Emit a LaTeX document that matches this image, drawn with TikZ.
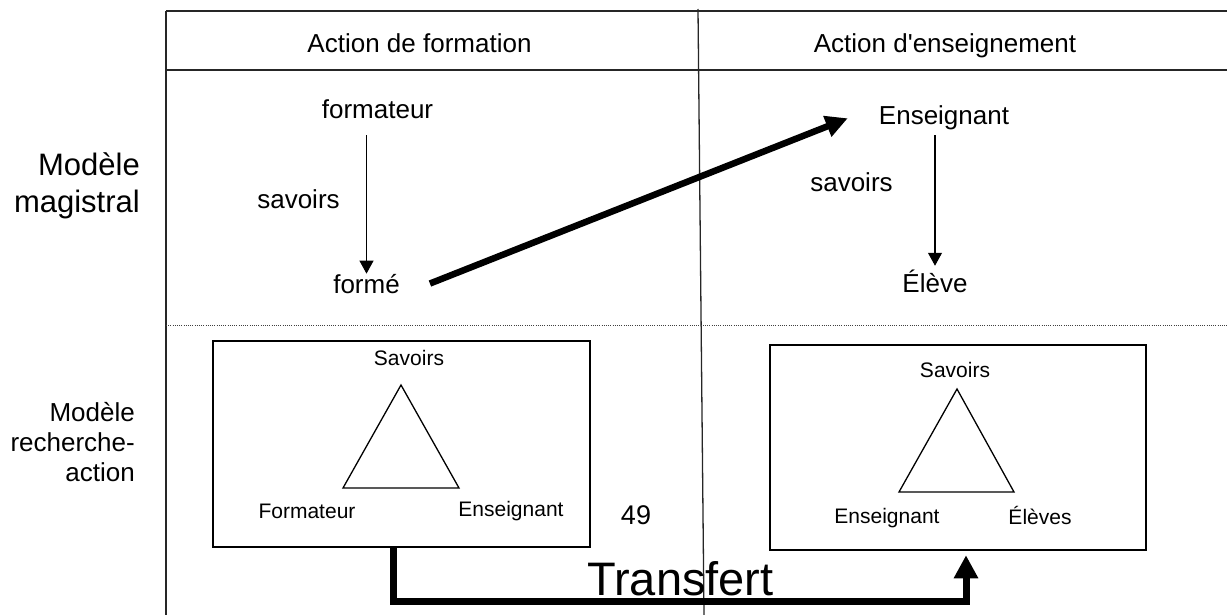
\documentclass[tikz,border=0pt]{standalone}
\usepackage{fontspec}
\setmainfont{Liberation Sans}
\usetikzlibrary{arrows.meta}
\begin{document}
\begin{tikzpicture}[x=1pt,y=-1pt,
  txt/.style={inner sep=0pt, anchor=base, font=\fontsize{26}{31}\selectfont},
  tri/.style={inner sep=0pt, anchor=base, font=\fontsize{21}{25}\selectfont},
  rowlabel/.style={inner sep=0pt, anchor=base east, align=right},
  rule/.style={line width=1.3pt, draw=black!85},
  flow/.style={line width=1.1pt, -{Triangle[length=13pt,width=14pt]}},
  bigflow/.style={line width=6.5pt, -{Triangle[length=22pt,width=21pt]}},
  transfer/.style={line width=7pt, -{Triangle[length=23pt,width=23pt]}},
  panel/.style={draw, line width=1.5pt, inner sep=0pt},
  triangle/.style={line width=1.3pt, line join=miter}
]
\useasboundingbox (0,0) rectangle (1227,615);

% table grid
\draw[rule] (166,11) -- (1227,11);
\draw[rule] (166,70) -- (1227,70);
\draw[rule] (166,11) -- (166,615);
\draw[rule] (698,9) -- (704,615);
\draw[line width=0.9pt, black!75, dash pattern=on 1pt off 1.2pt] (166,325) -- (1227,325);

% column headers
\node[txt] (h1) at (419.5,53) {Action de formation};
\node[txt] (h2) at (945,53) {Action d\textquotesingle enseignement};

% row labels (anchored on the baseline of their last line)
\node[rowlabel, font=\fontsize{31}{37}\selectfont] (row1) at (140,212) {Modèle\\magistral};
\node[rowlabel, font=\fontsize{26}{30}\selectfont] (row2) at (135,481) {Modèle\\recherche-\\action};

% magistral model
\node[txt] (formateur) at (377.5,119) {formateur};
\node[txt] (sav1) at (298.5,208) {savoirs};
\node[txt] (forme) at (366.5,293) {formé};
\node[txt] (ens) at (944,125) {Enseignant};
\node[txt] (sav2) at (851.5,192) {savoirs};
\node[txt] (eleve) at (935,292) {Élève};

\draw[flow, shorten <=16pt] (formateur.south -| forme.north) -- (forme.north);
\draw[flow, shorten <=4.5pt, shorten >=3.5pt] (ens.south -| eleve.north) -- (eleve.north);
\draw[bigflow] ([xshift=30pt]forme.east) -- ([xshift=-31pt]ens.west);

% research-action model: left panel
\node[panel, minimum width=377pt, minimum height=206pt] (lbox) at (401.5,444) {};
\draw[triangle] (401,385) -- (459,488) -- (343,488) -- cycle;
\node[tri] (lsav) at (409,365) {Savoirs};
\node[tri] (lform) at (307,518) {Formateur};
\node[tri] (lens) at (511,516) {Enseignant};

% research-action model: right panel
\node[panel, minimum width=376pt, minimum height=205pt] (rbox) at (958,447.5) {};
\draw[triangle] (957,389) -- (1014,492) -- (899,492) -- cycle;
\node[tri] (rsav) at (955,377) {Savoirs};
\node[tri] (rens) at (887,523) {Enseignant};
\node[tri] (relev) at (1040,524) {Élèves};

% page number
\node[inner sep=0pt, anchor=base, font=\fontsize{27}{32}\selectfont] (page) at (636,524) {49};

% transfer link between the panels
\coordinate (tlow) at (680,601);
\draw[transfer, shorten >=4.5pt] ([xshift=-8.5pt]lbox.south) |- (tlow) -| ([xshift=8pt]rbox.south);
\node[inner sep=0pt, anchor=base, font=\fontsize{47}{56}\selectfont] (transfert) at (680.5,595) {Transfert};
\end{tikzpicture}
\end{document}
